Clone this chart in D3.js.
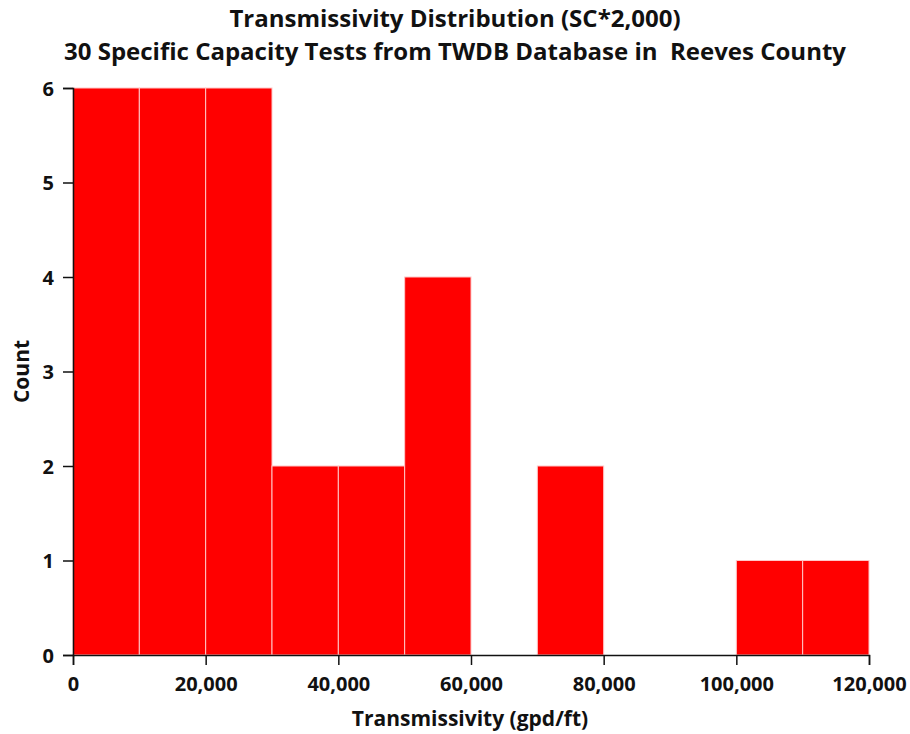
<html>
<head>
<script src="https://cdn.jsdelivr.net/npm/d3@7"></script>
<style>
body { margin:0; padding:0; background:white; overflow:hidden; }
text { font-family: 'Open Sans', 'Noto Sans', sans-serif; font-weight: bold; fill: #111; }
</style>
</head>
<body>
<div id="chart"></div>
<script>
// bin edges (gpd/ft) and counts per bin
const binStarts = [0, 10000, 20000, 30000, 40000, 50000, 60000, 70000, 80000, 90000, 100000, 110000];
const binWidth = 10000;
const counts = [6, 6, 6, 2, 2, 4, 0, 2, 0, 0, 1, 1];
const xTicks = [0, 20000, 40000, 60000, 80000, 100000, 120000];
const yTicks = [0, 1, 2, 3, 4, 5, 6];
const titleLines = ["Transmissivity Distribution (SC*2,000)", "30 Specific Capacity Tests from TWDB Database in  Reeves County"];

const width = 910, height = 734;
const margin = {top: 88, right: 41, bottom: 79, left: 73};

const svg = d3.select("#chart").append("svg").attr("width", width).attr("height", height);

const x = d3.scaleLinear().domain([0, 120000]).range([margin.left, width - margin.right]);
const y = d3.scaleLinear().domain([0, 6]).range([height - margin.bottom, margin.top]);

// bars
svg.append("g").selectAll("rect")
  .data(binStarts.map((s, i) => ({s, c: counts[i]})).filter(d => d.c > 0))
  .enter().append("rect")
    .attr("x", d => x(d.s))
    .attr("y", d => y(d.c))
    .attr("width", d => x(d.s + binWidth) - x(d.s))
    .attr("height", d => y(0) - y(d.c))
    .attr("fill", "#ff0000")
    .attr("stroke", "#ffc8c8")
    .attr("stroke-width", 1);

// axes
const xAxis = svg.append("g")
  .attr("transform", `translate(0,${y(0)})`)
  .call(d3.axisBottom(x).tickValues(xTicks).tickFormat(d3.format(",")).tickSizeOuter(0).tickSize(10).tickPadding(9));
const yAxis = svg.append("g")
  .attr("transform", `translate(${x(0)},0)`)
  .call(d3.axisLeft(y).tickValues(yTicks).tickFormat(d3.format("d")).tickSizeOuter(0).tickSize(10).tickPadding(9));

[xAxis, yAxis].forEach(a => {
  a.select(".domain").attr("stroke", "#111").attr("stroke-width", 1.5);
  a.selectAll(".tick line").attr("stroke", "#111").attr("stroke-width", 1.5);
  a.selectAll(".tick text").style("font-size", "20px").attr("fill", "#111");
});
xAxis.selectAll(".tick text").attr("dy", "0.85em");
yAxis.selectAll(".tick text").attr("dy", "0.35em");

// titles
svg.selectAll(".title").data(titleLines).enter().append("text")
  .attr("class", "title")
  .attr("x", 455)
  .attr("y", (d, i) => 27 + i * 33)
  .attr("text-anchor", "middle")
  .style("font-size", "24px")
  .style("white-space", "pre")
  .text(d => d);

svg.append("text")
  .attr("x", 470).attr("y", 726)
  .attr("text-anchor", "middle")
  .style("font-size", "21px")
  .text("Transmissivity (gpd/ft)");

svg.append("text")
  .attr("transform", `translate(29,${(y(0) + y(6)) / 2}) rotate(-90)`)
  .attr("text-anchor", "middle")
  .style("font-size", "21px")
  .text("Count");
</script>
</body>
</html>
